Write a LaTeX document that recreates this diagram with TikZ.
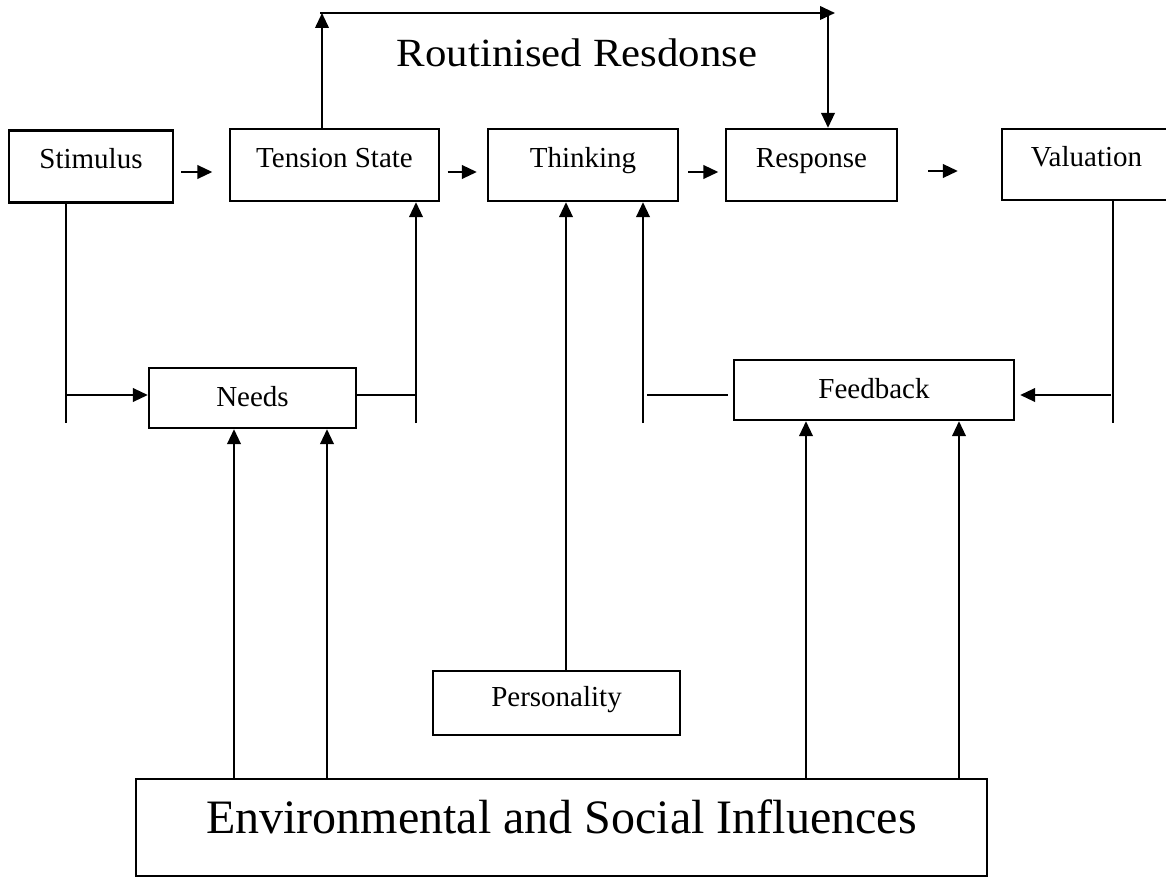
\documentclass[tikz,border=0pt]{standalone}
\usepackage{fontspec}
\setmainfont{Liberation Serif}
\usetikzlibrary{arrows.meta}
\begin{document}
\begin{tikzpicture}[x=1pt,y=-1pt,
  box/.style={draw, line width=2.3pt, inner sep=0pt, text height=20pt,
    font=\fontsize{29}{34}\selectfont},
  link/.style={line width=2.3pt},
  arr/.style={link, -{Triangle[length=15pt,width=13.5pt]}}]
\useasboundingbox (0,0) rectangle (1166,877);
\clip (0,0) rectangle (1166,877);

% main chain of boxes
\node[box, minimum width=164pt, minimum height=72pt, text depth=16pt] (stim)  at (91,166.5)   {Stimulus};
\node[box, minimum width=209pt, minimum height=72pt, text depth=15pt] (ten)   at (334.5,165)  {Tension State};
\node[box, minimum width=190pt, minimum height=72pt, text depth=15pt] (think) at (583,165)    {Thinking};
\node[box, minimum width=171pt, minimum height=72pt, text depth=15pt] (resp)  at (811.5,165)  {Response};
\node[box, minimum width=169pt, minimum height=71pt, text depth=15pt] (valu)  at (1086.5,164.5) {Valuation};

% second row and lower boxes
\node[box, minimum width=207pt, minimum height=60pt, text depth=4pt]    (needs) at (252.5,398)  {Needs};
\node[box, minimum width=280pt, minimum height=60pt, text depth=3.4pt]  (feed)  at (874,390)    {Feedback};
\node[box, minimum width=247pt, minimum height=64pt, text depth=12.6pt] (pers)  at (556.5,703)  {Personality};
\node[box, minimum width=851pt, minimum height=97pt, text height=33pt, text depth=21.4pt,
      font=\fontsize{48}{56}\selectfont] (env) at (561.5,827.5) {Environmental and Social Influences};

% caption of the shortcut loop
\node[anchor=base, inner sep=0pt, xscale=1.07, font=\fontsize{40}{46}\selectfont]
  (routine) at (577,67) {Routinised Resdonse};

% short arrows along the main chain
\draw[arr, shorten <=7pt,   shorten >=16.5pt] ([yshift=-5.5pt]stim.east) -- ([yshift=-7pt]ten.west);
\draw[arr, shorten <=7.5pt, shorten >=10pt]   ([yshift=-7pt]ten.east)    -- ([yshift=-7pt]think.west);
\draw[arr, shorten <=9pt,   shorten >=6.5pt]  ([yshift=-7pt]think.east)  -- ([yshift=-7pt]resp.west);
\draw[arr, shorten <=30pt,  shorten >=43pt]   ([yshift=-6pt]resp.east)   -- ([yshift=-6.5pt]valu.west);

% routinised response loop over the top
\coordinate (tl) at (322,13);
\coordinate (tr) at (828,13);
\draw[arr] (tl |- ten.north) -- (tl);
\draw[arr, shorten <=-2pt] (tl) -- ([xshift=7pt]tr);
\draw[arr] (tr) -- (tr |- resp.north);

% stimulus feeding the needs
\coordinate (s1) at (66,395);
\coordinate (s2) at (66,423);
\draw[link] (s1 |- stim.south) -- (s2);
\draw[arr] (s1) -- (s1 -| needs.west);

% needs raising the tension state
\coordinate (n1) at (416,395);
\coordinate (n2) at (416,423);
\draw[link] (n1 -| needs.east) -- (n1);
\draw[arr] (n2) -- (n2 |- ten.south);

% personality into thinking
\coordinate (px) at (566,0);
\draw[arr] (px |- pers.north) -- (px |- think.south);

% feedback into thinking
\coordinate (f1) at (643,395);
\coordinate (f2) at (643,423);
\draw[arr] (f2) -- (f2 |- think.south);
\draw[link] ([xshift=4pt]f1) -- ([xshift=-5pt]f1 -| feed.west);

% valuation back to feedback
\coordinate (v1) at (1113,395);
\coordinate (v2) at (1113,423);
\draw[link] (v1 |- valu.south) -- (v2);
\draw[arr, shorten <=2pt, shorten >=5pt] (v1) -- (v1 -| feed.east);

% environmental and social influences
\foreach \x/\target in {234/needs, 327/needs, 806/feed, 959/feed}
  \draw[arr] (\x,0 |- env.north) -- (\x,0 |- \target.south);
\end{tikzpicture}
\end{document}
